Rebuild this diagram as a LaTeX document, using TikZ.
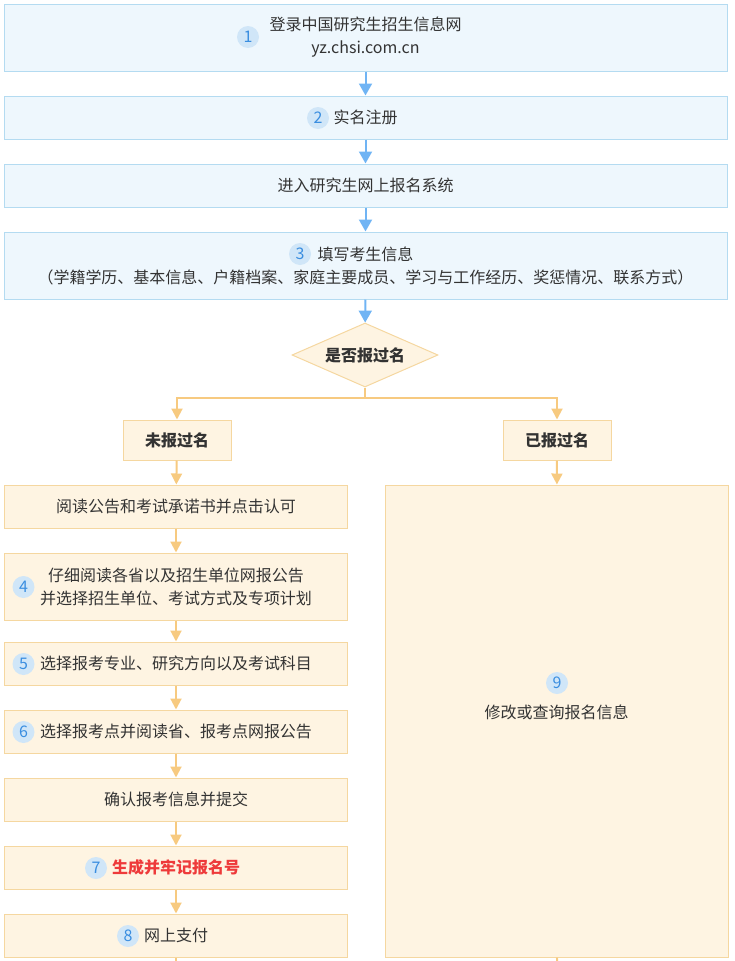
\documentclass[tikz,border=0pt]{standalone}
\usepackage{fontspec}
\setmainfont{Noto Sans CJK SC}
\usepackage{tikz}
\usetikzlibrary{arrows.meta,shapes.geometric}

\definecolor{blueline}{HTML}{B4DBF1}
\definecolor{bluefill}{HTML}{EEF7FD}
\definecolor{bluearrow}{HTML}{70B4F4}
\definecolor{orangeline}{HTML}{F5D7A0}
\definecolor{orangefill}{HTML}{FEF4E2}
\definecolor{orangearrow}{HTML}{F7CA80}
\definecolor{badgefill}{HTML}{D0E6F8}
\definecolor{badgetext}{HTML}{3A8EE0}
\definecolor{textgray}{HTML}{333333}
\definecolor{alertred}{HTML}{EE3A3A}

\begin{document}
\begin{tikzpicture}[x=1pt, y=-1pt,
    font=\fontsize{16}{23}\selectfont,
    bluebox/.style={draw=blueline, fill=bluefill, line width=1pt, minimum width=723pt, inner sep=0pt, align=center, text=textgray},
    leftbox/.style={draw=orangeline, fill=orangefill, line width=1pt, minimum width=343pt, minimum height=43pt, inner sep=0pt, align=center, text=textgray},
    smallbox/.style={draw=orangeline, fill=orangefill, line width=1pt, minimum width=108pt, minimum height=40pt, inner sep=0pt, text=textgray, font=\fontsize{16}{23}\selectfont\bfseries},
    badge/.style={circle, fill=badgefill, minimum size=22pt, inner sep=0pt, text=badgetext},
    barrow/.style={-{Triangle[width=13pt,length=12pt]}, bluearrow, line width=2pt},
    oarrow/.style={-{Triangle[width=11pt,length=11pt]}, orangearrow, line width=2pt},
    oline/.style={orangearrow, line width=2pt}]

    \useasboundingbox (0,0) rectangle (735,961);

    % Blue steps at the top
    \node[bluebox, minimum height=67pt] (login) at (365.5,37.5) {登录中国研究生招生信息网\\yz.chsi.com.cn};
    \node[bluebox, minimum height=43pt] (register) at (365.5,117.5) {实名注册};
    \node[bluebox, minimum height=43pt] (enter) at (365.5,185.5) {进入研究生网上报名系统};
    \node[bluebox, minimum height=67pt] (fill) at (365.5,265.5) {填写考生信息\\（学籍学历、基本信息、户籍档案、家庭主要成员、学习与工作经历、奖惩情况、联系方式）};

    % Decision
    \node[diamond, shape aspect=2.28, draw=orangeline, fill=orangefill, line width=1pt, minimum width=146pt, minimum height=64pt, inner sep=0pt, text=textgray, font=\fontsize{16}{23}\selectfont\bfseries] (dec) at (365,355) {是否报过名};
    \coordinate (split) at (365,398);

    % Two branches
    \node[smallbox] (no) at (177,440) {未报过名};
    \node[smallbox] (yes) at (557,440) {已报过名};

    % Left column
    \node[leftbox] (read) at (176,506.5) {阅读公告和考试承诺书并点击认可};
    \node[leftbox, minimum height=67pt] (unit) at (176,586.5) {仔细阅读各省以及招生单位网报公告\\并选择招生单位、考试方式及专项计划};
    \node[leftbox] (major) at (176,663.5) {选择报考专业、研究方向以及考试科目};
    \node[leftbox] (site) at (176,731.5) {选择报考点并阅读省、报考点网报公告};
    \node[leftbox] (confirm) at (176,799.5) {确认报考信息并提交};
    \node[leftbox, text=alertred, font=\fontsize{16}{23}\selectfont\bfseries] (number) at (176,867.5) {生成并牢记报名号};
    \node[leftbox] (pay) at (176,935.5) {网上支付};
    \coordinate (endL) at (176,961);

    % Right column
    \node[leftbox, minimum width=343pt, minimum height=472pt] (modify) at (556.5,721) {};
    \node[text=textgray] (modtext) at (556.5,712) {修改或查询报名信息};
    \coordinate (endR) at (557,961);

    % Number badges
    \node[badge] (n1) at (248,37) {1};
    \node[badge] (n2) at (318,118) {2};
    \node[badge] (n3) at (300,254) {3};
    \node[badge] (n4) at (23.5,587) {4};
    \node[badge] (n5) at (23.5,664) {5};
    \node[badge] (n6) at (23.5,732) {6};
    \node[badge] (n7) at (96,868) {7};
    \node[badge] (n8) at (128,936) {8};
    \node[badge] (n9) at (557,683) {9};

    % Connectors
    \draw[barrow] (login) -- (register);
    \draw[barrow] (register) -- (enter);
    \draw[barrow] (enter) -- (fill);
    \draw[barrow] (fill) -- (dec);
    \draw[oline] (dec.south) -- (split);
    \draw[oarrow] (split) -| (no);
    \draw[oarrow] (split) -| (yes);
    \draw[oarrow] (no) -- (read);
    \draw[oarrow] (read) -- (unit);
    \draw[oarrow] (unit) -- (major);
    \draw[oarrow] (major) -- (site);
    \draw[oarrow] (site) -- (confirm);
    \draw[oarrow] (confirm) -- (number);
    \draw[oarrow] (number) -- (pay);
    \draw[oline] (pay) -- (endL);
    \draw[oarrow] (yes) -- (modify);
    \draw[oline] (modify) -- (endR);
\end{tikzpicture}
\end{document}
